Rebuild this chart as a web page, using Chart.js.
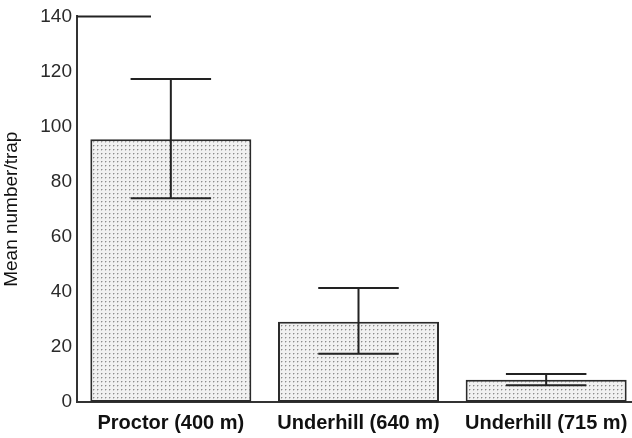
<!DOCTYPE html>
<html>
<head>
<meta charset="utf-8">
<script src="https://cdn.jsdelivr.net/npm/chart.js@4"></script>
<style>
  html, body { margin: 0; padding: 0; background: #fff; overflow: hidden; }
  #wrap { width: 640px; height: 438px; }
</style>
</head>
<body>
<div id="wrap"><canvas id="trapChart" width="640" height="438"></canvas></div>
<script>
// Dados
const sites = ['Proctor (400 m)', 'Underhill (640 m)', 'Underhill (715 m)'];
const meanPerTrap = [95.4, 29.1, 8.1];
const errUpper = [117.3, 41.4, 10.2];
const errLower = [74.0, 17.5, 6.1];
const yTicks = [0, 20, 40, 60, 80, 100, 120, 140];

// Padrão pontilhado das barras
function dotPattern() {
    const c = document.createElement('canvas');
    c.width = 4; c.height = 4;
    const g = c.getContext('2d');
    g.fillStyle = '#f1f1f1';
    g.fillRect(0, 0, 4, 4);
    g.fillStyle = '#8c8c8c';
    g.fillRect(1, 1, 1, 1);
    g.fillStyle = '#c8c8c8';
    g.fillRect(2, 1, 1, 1);
    g.fillRect(1, 2, 1, 1);
    return g.createPattern(c, 'repeat');
}

// Barras de erro desenhadas com as escalas do gráfico
const errorBars = {
    id: 'errorBars',
    afterDatasetsDraw(chart) {
        const ctx = chart.ctx;
        const y = chart.scales.y;
        const meta = chart.getDatasetMeta(0);
        ctx.save();
        ctx.strokeStyle = '#222';
        ctx.lineWidth = 2;
        meta.data.forEach((bar, i) => {
            const yt = y.getPixelForValue(errUpper[i]);
            const yb = y.getPixelForValue(errLower[i]);
            const half = bar.width / 4;
            ctx.beginPath();
            ctx.moveTo(bar.x, yt); ctx.lineTo(bar.x, yb);
            ctx.moveTo(bar.x - half, yt); ctx.lineTo(bar.x + half, yt);
            ctx.moveTo(bar.x - half, yb); ctx.lineTo(bar.x + half, yb);
            ctx.stroke();
        });
        // traço curto no topo do eixo
        const a = chart.chartArea;
        ctx.beginPath();
        ctx.moveTo(a.left, a.top);
        ctx.lineTo(a.left + 74, a.top);
        ctx.stroke();
        ctx.restore();
    }
};

new Chart(document.getElementById('trapChart'), {
    type: 'bar',
    data: {
        labels: sites,
        datasets: [{
            data: meanPerTrap,
            backgroundColor: dotPattern(),
            borderColor: '#2a2a2a',
            borderWidth: 2,
            borderSkipped: false,
            barPercentage: 0.858,
            categoryPercentage: 1
        }]
    },
    options: {
        responsive: false,
        animation: false,
        layout: { padding: { top: 16, right: 0, bottom: 0, left: 0 } },
        plugins: {
            legend: { display: false },
            tooltip: { enabled: false }
        },
        scales: {
            x: {
                grid: { display: false, drawTicks: false },
                border: { color: '#333', width: 2 },
                ticks: {
                    color: '#111',
                    padding: 9,
                    font: { family: 'Liberation Sans, Arial, sans-serif', size: 20, weight: 'bold' }
                },
                afterFit(scale) { scale.height = 36; }
            },
            y: {
                min: 0,
                max: 140,
                afterBuildTicks(scale) { scale.ticks = yTicks.map(v => ({ value: v })); },
                grid: { display: false, drawTicks: false },
                border: { color: '#333', width: 2 },
                ticks: {
                    color: '#2a2a2a',
                    padding: 5,
                    font: { family: 'Liberation Sans, Arial, sans-serif', size: 19 }
                },
                title: {
                    display: true,
                    text: 'Mean number/trap',
                    color: '#111',
                    padding: { top: 0, bottom: 2 },
                    font: { family: 'Liberation Sans, Arial, sans-serif', size: 19 }
                },
                afterFit(scale) { scale.width = 77; }
            }
        }
    },
    plugins: [errorBars]
});
</script>
</body>
</html>
